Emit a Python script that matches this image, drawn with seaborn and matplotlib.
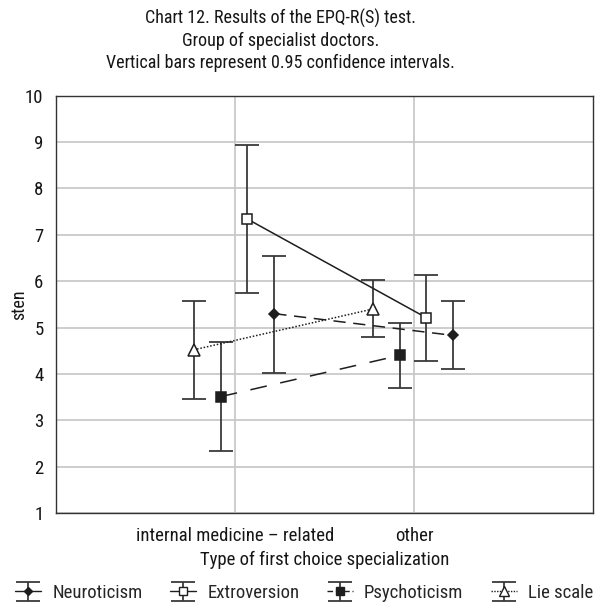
import matplotlib
matplotlib.use("Agg")
import matplotlib.pyplot as plt
from matplotlib.lines import Line2D
from matplotlib.legend_handler import HandlerTuple
import pandas as pd
import seaborn as sns

# ---- data (sten means with 0.95 confidence limits) ----
categories = ["internal medicine \u2013 related", "other"]
scales = ["Neuroticism", "Extroversion", "Psychoticism", "Lie scale"]

neuro_mean = [5.30, 4.83]
neuro_low = [4.03, 4.10]
neuro_high = [6.55, 5.57]

extro_mean = [7.34, 5.21]
extro_low = [5.75, 4.27]
extro_high = [8.93, 6.13]

psych_mean = [3.51, 4.40]
psych_low = [2.33, 3.70]
psych_high = [4.68, 5.09]

lie_mean = [4.52, 5.40]
lie_low = [3.45, 4.80]
lie_high = [5.58, 6.03]

means = [neuro_mean, extro_mean, psych_mean, lie_mean]
lows = [neuro_low, extro_low, psych_low, lie_low]
highs = [neuro_high, extro_high, psych_high, lie_high]

# ---- styling ----
sns.set_theme(style="white")
plt.rcParams["font.family"] = ["Roboto Condensed", "Archivo Narrow", "DejaVu Sans"]

INK = "#1e1e1e"
BAR = "#3a3a3a"
GRID = "#c9c9c9"
TXT = "#161616"

# plot line style and a shorter pattern for the legend key
styles = {
    "Neuroticism":  dict(offset=0.22,  marker="D", ms=5.5, mfc=INK,     ls=(0, (8, 5)),    key_ls="-"),
    "Extroversion": dict(offset=0.07,  marker="s", ms=6.5, mfc="white", ls="-",            key_ls="-"),
    "Psychoticism": dict(offset=-0.08, marker="s", ms=7.0, mfc=INK,     ls=(0, (11, 9)),   key_ls=(0, (4, 2))),
    "Lie scale":    dict(offset=-0.23, marker="^", ms=8.0, mfc="white", ls=(0, (1, 1.2)),  key_ls=(0, (1, 1))),
}

rows = []
for name, m, lo, hi in zip(scales, means, lows, highs):
    for i, cat in enumerate(categories):
        rows.append(dict(scale=name, category=cat, pos=i + styles[name]["offset"],
                         mean=m[i], low=lo[i], high=hi[i]))
df = pd.DataFrame(rows)

fig = plt.figure(figsize=(5.95, 6.10), dpi=100)
ax = fig.add_axes([0.094, 0.159, 0.9026, 0.684])

handles = []
for name in scales:
    st = styles[name]
    sub = df[df["scale"] == name]
    # confidence interval bars
    err = ax.errorbar(sub["pos"], sub["mean"],
                      yerr=[sub["mean"] - sub["low"], sub["high"] - sub["mean"]],
                      fmt="none", ecolor=BAR, elinewidth=1.3, capsize=8.5,
                      capthick=1.3, zorder=2)
    # means joined across categories
    sns.lineplot(data=sub, x="pos", y="mean", ax=ax, color=INK, linewidth=1.1,
                 linestyle=st["ls"], marker=st["marker"], markersize=st["ms"],
                 markerfacecolor=st["mfc"], markeredgecolor=INK, markeredgewidth=1.1,
                 zorder=3, legend=False, sort=False)
    line_h = Line2D([], [], color=INK, linewidth=1.0, linestyle=st["key_ls"],
                    marker=st["marker"], markersize=st["ms"] - 1,
                    markerfacecolor=st["mfc"], markeredgecolor=INK, markeredgewidth=1.0)
    handles.append((err, line_h))

ax.set_xlim(-1, 2)
ax.set_ylim(1, 10)
ax.set_xticks(range(len(categories)))
ax.set_xticklabels(categories)
ax.set_yticks(range(1, 11))
ax.tick_params(axis="both", length=0, labelsize=13.5, colors=TXT)
ax.tick_params(axis="y", pad=9)
ax.tick_params(axis="x", pad=10)
ax.grid(True, color=GRID, linewidth=1.3)
ax.set_axisbelow(True)
for sp in ax.spines.values():
    sp.set_color("#333333")
    sp.set_linewidth(1.0)

ax.set_xlabel("Type of first choice specialization", fontsize=13.5, color=TXT, labelpad=4)
ax.set_ylabel("sten", fontsize=13, color=TXT, labelpad=-2)

fig.text(0.472, 0.985,
         "Chart 12. Results of the EPQ-R(S) test.\n"
         "Group of specialist doctors.\n"
         "Vertical bars represent 0.95 confidence intervals.",
         ha="center", va="top", fontsize=13, color=TXT, linespacing=1.25)

fig.legend(handles, scales, loc="center", bbox_to_anchor=(0.511, 0.028), ncol=4,
           frameon=False, fontsize=13.5, handlelength=1.4, columnspacing=1.45,
           handletextpad=0.6, borderpad=0.1,
           handler_map={tuple: HandlerTuple(ndivide=1)})

fig.savefig("out.png", dpi=100)
